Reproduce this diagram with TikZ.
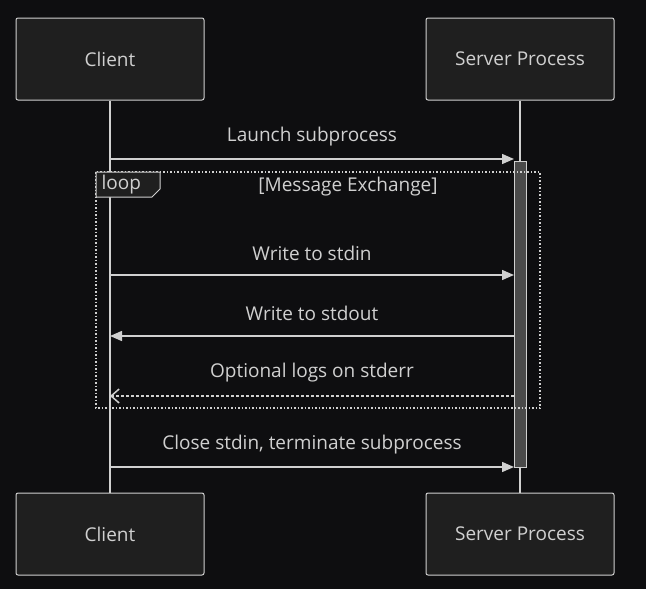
\documentclass[tikz,border=0pt]{standalone}
\usepackage{fontspec}
\setmainfont{Open Sans}
\usetikzlibrary{arrows.meta,positioning}
\definecolor{bgdark}{HTML}{0E0E10}
\definecolor{boxfill}{HTML}{1F1F1F}
\definecolor{linegray}{HTML}{D0D0D0}
\definecolor{barfill}{HTML}{4A4A4A}
\tikzset{
  % participant boxes
  actor/.style={draw=linegray, line width=1pt, fill=boxfill, rounded corners=2pt, minimum width=188pt,
    minimum height=82pt, text=linegray, font=\fontsize{19}{22}\selectfont},
  % messages
  msg/.style={linegray, line width=1.5pt, -{Triangle[length=12pt,width=10pt]}},
  reply/.style={linegray, line width=1.5pt, dash pattern=on 3pt off 2pt, -{Straight Barb[length=8pt,width=14pt]}},
  msglabel/.style={text=linegray, font=\fontsize{19}{22}\selectfont},
}
\begin{document}
\begin{tikzpicture}[x=1pt,y=-1pt]
\fill[bgdark] (0,0) rectangle (646,589);
\useasboundingbox (0,0) rectangle (646,589);

% Participants
\node[actor] (client) at (110,59) {Client};
\node[actor] (server) at (520,59) {Server Process};
\node[actor] (clientB) at (110,534) {Client};
\node[actor] (serverB) at (520,534) {Server Process};

% Lifelines
\draw[linegray, line width=1.5pt] (client) -- (clientB);
\draw[linegray, line width=1.5pt] (server) -- (serverB);

% Activation
\draw[linegray, line width=1pt, fill=barfill] (514,161) rectangle (526,467);

% Loop frame
\draw[linegray, line width=1.5pt, dotted] (96,172) rectangle (540,408);
\draw[linegray, line width=1pt, fill=boxfill] (96,172) -- (160,172) -- (160,189) -- (152,197) -- (96,197) -- cycle;
\node[msglabel, anchor=west] (looplabel) at (98,185) {loop};
\node[msglabel] (loopname) at (348,187) {[Message Exchange]};

% Messages
\foreach \y/\name in {159/launch, 275/stdin, 336/stdout, 396/stderr, 467/close} {
  \coordinate (c-\name) at (110,\y);
  \coordinate (s-\name) at (514,\y);
}
\draw[msg] (c-launch) -- (s-launch);
\draw[msg] (c-stdin) -- (s-stdin);
\draw[msg] (s-stdout) -- (c-stdout);
\draw[reply] (s-stderr) -- (c-stderr);
\draw[msg] (c-close) -- (s-close);

\node[msglabel] at (312,137) {Launch subprocess};
\node[msglabel] at (312,253) {Write to stdin};
\node[msglabel] at (312,313) {Write to stdout};
\node[msglabel] at (312,373) {Optional logs on stderr};
\node[msglabel] at (312,445) {Close stdin, terminate subprocess};
\end{tikzpicture}
\end{document}
